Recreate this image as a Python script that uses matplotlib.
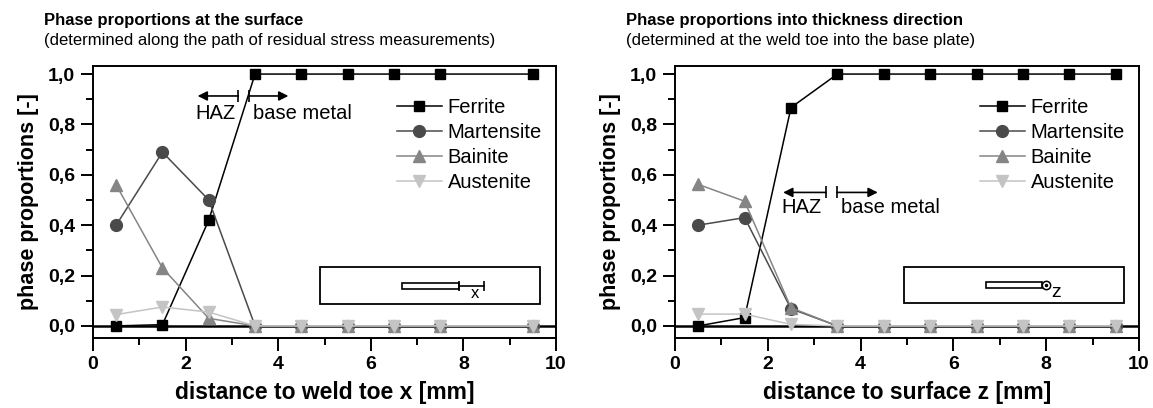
"""
Phase proportions at the surface and into thickness direction.
"""

import matplotlib
matplotlib.use("Agg")
import matplotlib.pyplot as plt
from matplotlib.patches import Rectangle
from matplotlib.ticker import MultipleLocator, FuncFormatter

plt.rcParams["font.family"] = ["Liberation Sans", "DejaVu Sans"]

# ── Data ──────────────────────────────────────────────────────────────────────

PHASES = ["Ferrite", "Martensite", "Bainite", "Austenite"]

X_SURF     = [0.5, 1.5, 2.5, 3.5, 4.5, 5.5, 6.5, 7.5, 9.5]
FERR_SURF  = [0.0, 0.005, 0.42, 1.0, 1.0, 1.0, 1.0, 1.0, 1.0]
MART_SURF  = [0.40, 0.69, 0.50, 0.0, 0.0, 0.0, 0.0, 0.0, 0.0]
BAIN_SURF  = [0.56, 0.23, 0.03, 0.0, 0.0, 0.0, 0.0, 0.0, 0.0]
AUST_SURF  = [0.045, 0.075, 0.055, 0.0, 0.0, 0.0, 0.0, 0.0, 0.0]

Z_THICK    = [0.5, 1.5, 2.5, 3.5, 4.5, 5.5, 6.5, 7.5, 8.5, 9.5]
FERR_THICK = [0.0, 0.033, 0.867, 1.0, 1.0, 1.0, 1.0, 1.0, 1.0, 1.0]
MART_THICK = [0.40, 0.43, 0.068, 0.0, 0.0, 0.0, 0.0, 0.0, 0.0, 0.0]
BAIN_THICK = [0.562, 0.495, 0.072, 0.0, 0.0, 0.0, 0.0, 0.0, 0.0, 0.0]
AUST_THICK = [0.047, 0.047, 0.006, 0.0, 0.0, 0.0, 0.0, 0.0, 0.0, 0.0]

TITLES = [
    ("Phase proportions at the surface",
     "(determined along the path of residual stress measurements)"),
    ("Phase proportions into thickness direction",
     "(determined at the weld toe into the base plate)"),
]
XLABELS = ["distance to weld toe x [mm]", "distance to surface z [mm]"]
YLABEL = "phase proportions [-]"

# ── Style ─────────────────────────────────────────────────────────────────────

STYLES = {
    "Ferrite":    dict(color="#000000", marker="s", ms=7.5),
    "Martensite": dict(color="#4a4a4a", marker="o", ms=8.5),
    "Bainite":    dict(color="#858585", marker="^", ms=9),
    "Austenite":  dict(color="#c4c4c4", marker="v", ms=9),
}

W, H = 1153, 408
AX_POS = [
    [93 / W, 1 - 338 / H, (556 - 93) / W, (338 - 66) / H],
    [675 / W, 1 - 338 / H, (1139 - 675) / W, (338 - 66) / H],
]


def comma(v, _):
    return f"{v:.1f}".replace(".", ",")


def style_axes(ax, xlabel):
    ax.set_xlim(0, 10)
    ax.set_ylim(-0.048, 1.032)
    ax.xaxis.set_major_locator(MultipleLocator(2))
    ax.xaxis.set_minor_locator(MultipleLocator(1))
    ax.yaxis.set_major_locator(MultipleLocator(0.2))
    ax.yaxis.set_minor_locator(MultipleLocator(0.1))
    ax.yaxis.set_major_formatter(FuncFormatter(comma))
    ax.tick_params(which="major", direction="out", length=9, width=1.4,
                   labelsize=14, pad=4)
    ax.tick_params(which="minor", direction="out", length=5, width=1.4)
    for lab in ax.get_xticklabels() + ax.get_yticklabels():
        lab.set_fontweight("bold")
    for sp in ax.spines.values():
        sp.set_linewidth(1.4)
    ax.set_xlabel(xlabel, fontsize=16.5, fontweight="bold", labelpad=6)
    ax.set_ylabel(YLABEL, fontsize=15.5, fontweight="bold", labelpad=6)
    ax.axhline(0, color="black", lw=1.8, zorder=1)


def plot_series(ax, x, series):
    for name, y in zip(PHASES, series):
        st = STYLES[name]
        ax.plot(x, y, color=st["color"], lw=1.1, marker=st["marker"],
                ms=st["ms"], mec=st["color"], mfc=st["color"], label=name,
                zorder=3, clip_on=False)
    ax.legend(loc="upper right", bbox_to_anchor=(1.0, 0.935), frameon=False,
              fontsize=14.5, handlelength=2.2, handletextpad=0.3,
              labelspacing=0.3, borderaxespad=0.3)


def zone_arrows(ax, y, haz, base, ty):
    # HAZ arrow points left, base metal arrow points right, each with a bar
    for x0, x1 in (haz, base):
        ax.annotate("", xy=(x1, y), xytext=(x0, y),
                    arrowprops=dict(arrowstyle="-|>", color="black", lw=1.2,
                                    mutation_scale=14, shrinkA=0, shrinkB=0))
        ax.plot([x0], [y], marker="|", ms=8, mew=1.2, color="black")
    ax.text(haz[1] - 0.04, ty, "HAZ", fontsize=14.5, va="center", ha="left")
    ax.text(base[0] + 0.08, ty, "base metal", fontsize=14.5, va="center",
            ha="left")


def inset_frame(ax, x0, x1, y0, y1):
    ax.add_patch(Rectangle((x0, y0), x1 - x0, y1 - y0, fill=False,
                           lw=1.3, ec="black", zorder=2))


fig = plt.figure(figsize=(W / 100, H / 100), dpi=100)

# ── Left panel ────────────────────────────────────────────────────────────────
ax1 = fig.add_axes(AX_POS[0])
style_axes(ax1, XLABELS[0])
plot_series(ax1, X_SURF, [FERR_SURF, MART_SURF, BAIN_SURF, AUST_SURF])
zone_arrows(ax1, 0.913, (3.14, 2.26), (3.38, 4.22), 0.845)
inset_frame(ax1, 4.9, 9.65, 0.088, 0.234)
ax1.add_patch(Rectangle((6.68, 0.146), 1.23, 0.024, fill=False, lw=1.2,
                        ec="black", zorder=2))
ax1.plot([7.91, 8.45], [0.158, 0.158], color="black", lw=1.2)
ax1.plot([7.91, 8.45], [0.158, 0.158], ls="none", marker="|", ms=7,
         mew=1.2, color="black")
ax1.text(8.25, 0.128, "x", fontsize=12, ha="center", va="center")

# ── Right panel ───────────────────────────────────────────────────────────────
ax2 = fig.add_axes(AX_POS[1])
style_axes(ax2, XLABELS[1])
plot_series(ax2, Z_THICK, [FERR_THICK, MART_THICK, BAIN_THICK, AUST_THICK])
zone_arrows(ax2, 0.53, (3.25, 2.33), (3.49, 4.37), 0.47)
inset_frame(ax2, 4.94, 9.67, 0.091, 0.234)
ax2.add_patch(Rectangle((6.7, 0.15), 1.2, 0.024, fill=False, lw=1.2,
                        ec="black", zorder=2))
ax2.plot([8.0], [0.162], marker="o", ms=6, mfc="white", mec="black",
         mew=1.1)
ax2.plot([8.0], [0.162], marker="o", ms=1.5, color="black")
ax2.text(8.22, 0.133, "z", fontsize=14, ha="center", va="center")

# ── Titles ────────────────────────────────────────────────────────────────────
for ax, (title, sub) in zip((ax1, ax2), TITLES):
    x_fig = ax.get_position().x0 - 49 / W
    fig.text(x_fig, 1 - 20 / H, title, fontsize=12, fontweight="bold",
             va="center", ha="left")
    fig.text(x_fig, 1 - 41 / H, sub, fontsize=12, va="center", ha="left")

fig.savefig("out.png", dpi=100)
